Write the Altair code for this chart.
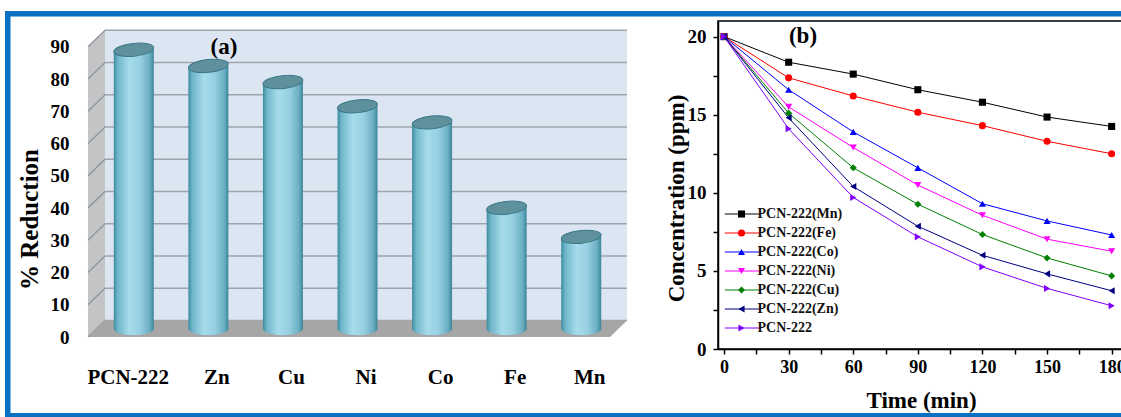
import altair as alt
import pandas as pd

# ---------------- data: panel (a) ----------------
metals = ["PCN-222", "Zn", "Cu", "Ni", "Co", "Fe", "Mn"]
reduction_pct = [86.5, 81.5, 76.5, 69.0, 64.0, 37.5, 28.5]
reduction_ticks = [0, 10, 20, 30, 40, 50, 60, 70, 80, 90]

# ---------------- data: panel (b) ----------------
time_min = [0, 30, 60, 90, 120, 150, 180]
series_names = ["PCN-222(Mn)", "PCN-222(Fe)", "PCN-222(Co)", "PCN-222(Ni)",
                "PCN-222(Cu)", "PCN-222(Zn)", "PCN-222"]
conc_mn = [20.0, 18.36, 17.6, 16.6, 15.8, 14.85, 14.25]
conc_fe = [20.0, 17.36, 16.2, 15.16, 14.3, 13.3, 12.5]
conc_co = [20.0, 16.6, 13.9, 11.6, 9.3, 8.2, 7.3]
conc_ni = [20.0, 15.5, 12.9, 10.5, 8.56, 7.03, 6.26]
conc_cu = [20.0, 15.1, 11.6, 9.27, 7.33, 5.83, 4.68]
conc_zn = [20.0, 14.8, 10.4, 7.86, 6.0, 4.81, 3.73]
conc_pcn = [20.0, 14.1, 9.7, 7.18, 5.26, 3.88, 2.77]
series_colors = ["#000000", "#ff0000", "#0000ff", "#ff00ff", "#008000", "#000080", "#8000ff"]
series_shapes = ["square", "circle", "triangle-up", "triangle-down", "diamond",
                 "triangle-left", "triangle-right"]
time_ticks = [0, 15, 30, 45, 60, 75, 90, 105, 120, 135, 150, 165, 180]
conc_ticks = [0, 2.5, 5, 7.5, 10, 12.5, 15, 17.5, 20]
panel_labels = ["(a)", "(b)"]

SERIF = "Liberation Serif"
FRAME_BLUE = "#0a70c2"

# ================= panel (a): pseudo-3D cylinder bars =================
W1, H1 = 522, 316
DX, DY = 17, 16.5          # depth of the 3D box (px)
HX, HY = DX / 2, DY / 2    # bars sit at mid depth

bars_df = pd.DataFrame({"metal": metals, "reduction": reduction_pct})
ticks_a = pd.DataFrame({"v": reduction_ticks})
one_row = pd.DataFrame({"k": [0]})
lab_a = pd.DataFrame({"label": panel_labels[:1]})

ya_scale = alt.Scale(domain=[0, 98], nice=False, zero=True)
xa_scale = alt.Scale(paddingInner=0, paddingOuter=0)

x_axis_a = alt.Axis(title=None, labelAngle=0, labelFont=SERIF, labelFontSize=21,
                    labelFontWeight="bold", labelColor="black", labelPadding=40,
                    labelBaseline="middle",
                    labelOffset={"condition": {"test": "datum.label == 'PCN-222'", "value": 3},
                                 "value": 17},
                    domain=False, ticks=False, grid=False)
y_axis_a = alt.Axis(title="% Reduction", values=reduction_ticks, labelFont=SERIF,
                    labelFontSize=19, labelFontWeight="bold", labelColor="black",
                    labelPadding=19, domain=False, ticks=False, grid=False,
                    titleFont=SERIF, titleFontSize=25, titleFontWeight="bold",
                    titleColor="black", titleX=-51, titleY=198, titleAngle=270,
                    titleAlign="center", titleBaseline="alphabetic")

wall = alt.Chart(ticks_a).mark_rect(color="#dce6f2", yOffset=-DY, y2Offset=-DY).encode(
    x=alt.value(DX), x2=alt.value(W1 + DX),
    y=alt.Y("max(v):Q", scale=ya_scale, axis=y_axis_a), y2=alt.Y2("min(v):Q"))

grid = alt.Chart(ticks_a).mark_rule(color="#9ea4aa", strokeWidth=1.5, yOffset=-DY).encode(
    x=alt.value(DX), x2=alt.value(W1 + DX),
    y=alt.Y("v:Q", scale=ya_scale, axis=y_axis_a))

# side wall (parallelogram)
r_side = (H1 * 90 / 98 + DY) / 2
a = HX / r_side
b = (H1 * 90 / 98 / 2 - HY) / r_side
SIDE_PATH = f"M {-a} {-b} L {a} -1 L {a} {b} L {-a} 1 Z"
side = alt.Chart(ticks_a).mark_point(shape=SIDE_PATH, size=(2 * r_side) ** 2, filled=True,
                                     color="#c3c4c6", opacity=1, strokeWidth=0,
                                     yOffset=-HY).encode(
    x=alt.value(HX), y=alt.Y("mean(v):Q", scale=ya_scale, axis=y_axis_a))

diag = alt.Chart(ticks_a).mark_point(shape="M -1 0.97 L 1 -0.97", size=DX ** 2, filled=False,
                                     color="#8e9296", strokeWidth=1.2, opacity=1,
                                     yOffset=-HY).encode(
    x=alt.value(HX), y=alt.Y("v:Q", scale=ya_scale, axis=y_axis_a))

# floor (parallelogram)
r_floor = (W1 + DX) / 2
fx = (W1 - r_floor) / r_floor
fy = HY / r_floor
FLOOR_PATH = f"M -1 {fy} L {fx} {fy} L 1 {-fy} L {-fx} {-fy} Z"
floor = alt.Chart(ticks_a).mark_point(shape=FLOOR_PATH, size=(2 * r_floor) ** 2, filled=True,
                                      color="#a6a6a6", opacity=1, strokeWidth=0,
                                      yOffset=-HY).encode(
    x=alt.value(r_floor), y=alt.Y("min(v):Q", scale=ya_scale, axis=y_axis_a))

bar_grad = alt.Gradient(
    gradient="linear", x1=0, x2=1, y1=0, y2=0,
    stops=[alt.GradientStop(color="#3d8ba0", offset=0),
           alt.GradientStop(color="#6fb6ca", offset=0.1),
           alt.GradientStop(color="#a6dbeb", offset=0.38),
           alt.GradientStop(color="#97d0e2", offset=0.65),
           alt.GradientStop(color="#6aaec2", offset=0.9),
           alt.GradientStop(color="#3b8499", offset=1)])

ELLIPSE = "M -1 0 A 1 0.32 0 1 1 1 0 A 1 0.32 0 1 1 -1 0 Z"
BAR_W = 40

bars = alt.Chart(bars_df).mark_bar(size=BAR_W, color=bar_grad, xOffset=HX, x2Offset=HX,
                                   yOffset=-HY, y2Offset=-HY).encode(
    x=alt.X("metal:N", sort=metals, scale=xa_scale, axis=x_axis_a),
    y=alt.Y("reduction:Q", scale=ya_scale, axis=y_axis_a))

bottom_ell = alt.Chart(bars_df).mark_point(shape=ELLIPSE, size=BAR_W ** 2, filled=True,
                                           color=bar_grad, opacity=1, strokeWidth=0,
                                           xOffset=HX, yOffset=-HY).encode(
    x=alt.X("metal:N", sort=metals, scale=xa_scale, axis=x_axis_a),
    y=alt.Y(datum=0, scale=ya_scale, axis=y_axis_a))

top_ell = alt.Chart(bars_df).mark_point(shape=ELLIPSE, size=BAR_W ** 2, filled=True,
                                        color="#5f919d", stroke="#397789", strokeWidth=1,
                                        opacity=1, angle=354, xOffset=HX, yOffset=-HY).encode(
    x=alt.X("metal:N", sort=metals, scale=xa_scale, axis=x_axis_a),
    y=alt.Y("reduction:Q", scale=ya_scale, axis=y_axis_a))

label_a = alt.Chart(lab_a).mark_text(font=SERIF, fontSize=23, fontWeight="bold",
                                     color="black", align="center", baseline="middle").encode(
    text="label:N", x=alt.value(136), y=alt.value(26))

# outer blue frame (drawn from the left panel)
frame_top = alt.Chart(one_row).mark_rect(color=FRAME_BLUE).encode(
    x=alt.value(-83), x2=alt.value(1052), y=alt.value(-10), y2=alt.value(-4.5))
frame_left = alt.Chart(one_row).mark_rect(color=FRAME_BLUE).encode(
    x=alt.value(-83), x2=alt.value(-77.5), y=alt.value(-10), y2=alt.value(404))
frame_bottom = alt.Chart(one_row).mark_rect(color=FRAME_BLUE).encode(
    x=alt.value(-83), x2=alt.value(1052), y=alt.value(392), y2=alt.value(404))

left = alt.layer(wall, grid, side, diag, floor, bars, bottom_ell, top_ell, label_a,
                 frame_top, frame_left, frame_bottom).properties(
    width=W1, height=H1, view=alt.ViewBackground(strokeWidth=0, fill="transparent"))

# ================= panel (b): concentration vs time =================
W2, H2 = 407, 328
rows = []
for name, vals in zip(series_names, [conc_mn, conc_fe, conc_co, conc_ni, conc_cu, conc_zn, conc_pcn]):
    for t, c in zip(time_min, vals):
        rows.append({"series": name, "time": t, "conc": c})
conc_df = pd.DataFrame(rows)
lab_b = pd.DataFrame({"label": panel_labels[1:]})

xb_scale = alt.Scale(domain=[-2.8, 186.2], nice=False, zero=False)
yb_scale = alt.Scale(domain=[0, 21], nice=False, zero=True)

x_axis_b = alt.Axis(title="Time (min)", values=time_ticks,
                    labelExpr="datum.value % 30 === 0 ? datum.label : ''",
                    labelFont=SERIF, labelFontSize=18, labelFontWeight="bold", labelColor="black",
                    labelPadding=4, labelFlush=False, labelOverlap=False,
                    domainColor="black", domainWidth=1.5, tickColor="black", tickWidth=1.5,
                    tickSize=5, grid=False,
                    titleFont=SERIF, titleFontSize=23, titleFontWeight="bold", titleColor="black",
                    titleX=203, titleY=58, titleAlign="center", titleBaseline="alphabetic")
y_axis_b = alt.Axis(title="Concentration (ppm)", values=conc_ticks,
                    labelExpr="datum.value % 5 === 0 ? datum.label : ''",
                    labelFont=SERIF, labelFontSize=19, labelFontWeight="bold", labelColor="black",
                    labelPadding=7, labelFlush=False, labelOverlap=False,
                    domainColor="black", domainWidth=1.5, tickColor="black", tickWidth=1.5,
                    tickSize=5, grid=False,
                    titleFont=SERIF, titleFontSize=23, titleFontWeight="bold", titleColor="black",
                    titleX=-35, titleY=177, titleAngle=270, titleAlign="center",
                    titleBaseline="alphabetic")

# line legend: long horizontal stroke drawn by a compact symbol, labels hidden
line_legend = alt.Legend(title=None, orient="none", legendX=17.3, legendY=186, padding=0,
                         symbolType="M -5 0 L 5 0", symbolSize=49, symbolStrokeWidth=1,
                         labelFont=SERIF, labelFontSize=14, labelFontWeight="bold",
                         labelOpacity=0, labelOffset=9, rowPadding=5)
# marker legend: visible labels
pt_legend = alt.Legend(title=None, orient="none", legendX=16.5, legendY=186, padding=0,
                       symbolSize=50, labelFont=SERIF, labelFontSize=14, labelFontWeight="bold",
                       labelColor="#111111", labelOffset=9, rowPadding=5)

lines = alt.Chart(conc_df).mark_line(strokeWidth=1).encode(
    x=alt.X("time:Q", scale=xb_scale, axis=x_axis_b),
    y=alt.Y("conc:Q", scale=yb_scale, axis=y_axis_b),
    color=alt.Color("series:N", sort=series_names,
                    scale=alt.Scale(domain=series_names, range=series_colors),
                    legend=line_legend))

points = alt.Chart(conc_df).mark_point(filled=True, size=50, opacity=1).encode(
    x=alt.X("time:Q", scale=xb_scale, axis=x_axis_b),
    y=alt.Y("conc:Q", scale=yb_scale, axis=y_axis_b),
    color=alt.Color("series:N", sort=series_names,
                    scale=alt.Scale(domain=series_names, range=series_colors),
                    legend=pt_legend),
    shape=alt.Shape("series:N", sort=series_names,
                    scale=alt.Scale(domain=series_names, range=series_shapes),
                    legend=pt_legend))

label_b = alt.Chart(lab_b).mark_text(font=SERIF, fontSize=23, fontWeight="bold",
                                     color="black", align="center", baseline="middle").encode(
    text="label:N", x=alt.value(85), y=alt.value(15))

right = alt.layer(lines, points, label_b).resolve_scale(
    color="independent", shape="independent").properties(
    width=W2, height=H2, view=alt.ViewBackground(stroke="black", strokeWidth=1.5, fill="white"))

chart = alt.hconcat(left, right, spacing=108, bounds="flush").properties(
    padding={"left": 5, "top": 11, "right": -19, "bottom": -8},
    background="white")

chart.save("out.html", embed_options={"renderer": "svg", "actions": False})
